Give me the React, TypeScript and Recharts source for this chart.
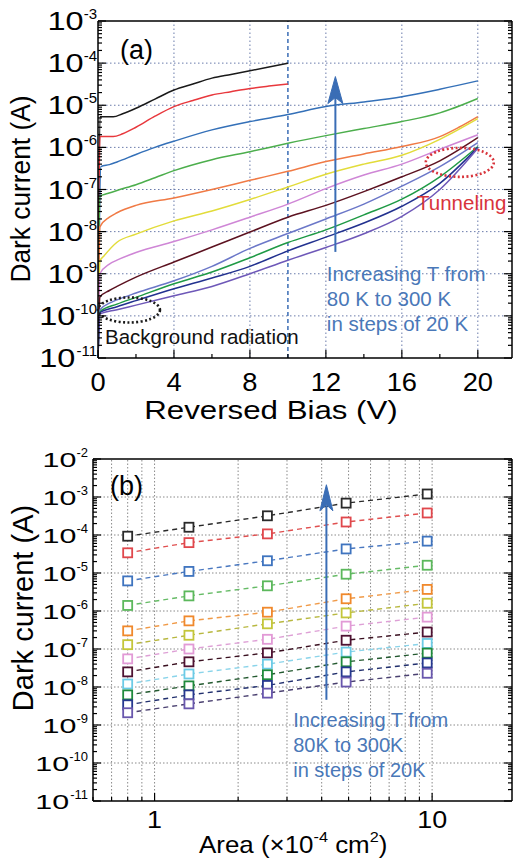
import React from 'react';
import { LineChart, Line, XAxis, YAxis, ReferenceLine, ReferenceArea, ReferenceDot, Label } from 'recharts';

const FONT = '"Liberation Sans", Arial, Helvetica, sans-serif';

// ---------------- Panel (a): dark current vs reversed bias ----------------
const temperaturesA = ['300 K', '280 K', '260 K', '240 K', '220 K', '200 K', '180 K', '160 K', '140 K', '120 K', '100 K', '80 K'];
const colorsA = ['#1a1a1a', '#e8383d', '#3470b8', '#4cae4c', '#f07a45', '#e2dc3a', '#cf86d6', '#5c1220', '#6b77c8', '#1f9a45', '#22318f', '#6e58b8'];

const curve300K: [number, number][] = [[0, 1e-11], [0.1, 5.3e-6], [0.8, 5.3e-6], [1.3, 6.3e-6], [2, 8.5e-6], [3, 1.4e-5], [4, 2.3e-5], [5, 3.2e-5], [6, 4.4e-5], [7, 5.4e-5], [8, 6.6e-5], [9, 8.1e-5], [10, 1e-4]];
const curve280K: [number, number][] = [[0, 1e-11], [0.1, 1.8e-6], [0.8, 1.8e-6], [1.3, 2.1e-6], [2, 3.0e-6], [3, 5.5e-6], [4, 9.3e-6], [5, 1.3e-5], [6, 1.75e-5], [7, 2.1e-5], [8, 2.5e-5], [9, 2.85e-5], [10, 3.2e-5]];
const curve260K: [number, number][] = [[0, 1e-11], [0.15, 3.5e-7], [0.6, 3.9e-7], [1, 4.5e-7], [2, 6.8e-7], [3, 1.0e-6], [4, 1.4e-6], [6, 2.6e-6], [8, 4.1e-6], [10, 6e-6], [12, 9.3e-6], [14, 1.2e-5], [16, 1.6e-5], [18, 2.4e-5], [20, 3.8e-5]];
const curve240K: [number, number][] = [[0, 1e-11], [0.1, 6.9e-8], [0.5, 8e-8], [1, 9.5e-8], [2, 1.3e-7], [3, 1.9e-7], [4, 2.8e-7], [6, 5.1e-7], [8, 7.9e-7], [10, 1.25e-6], [12, 1.9e-6], [14, 2.8e-6], [16, 4.1e-6], [18, 6.6e-6], [20, 1.45e-5]];
const curve220K: [number, number][] = [[0, 1e-11], [0.1, 1.3e-8], [0.6, 2.2e-8], [1, 2.8e-8], [2, 4.2e-8], [4, 6.3e-8], [6, 1.0e-7], [8, 1.65e-7], [10, 2.7e-7], [12, 4.6e-7], [14, 7e-7], [16, 1.05e-6], [18, 1.8e-6], [19, 3.0e-6], [20, 5.4e-6]];
const curve200K: [number, number][] = [[0, 1e-11], [0.1, 2e-9], [0.3, 2.6e-9], [1, 5.6e-9], [2, 8.7e-9], [4, 1.8e-8], [6, 3.1e-8], [8, 5.8e-8], [10, 1.15e-7], [12, 2.3e-7], [14, 4e-7], [16, 6.5e-7], [18, 1.55e-6], [20, 4.8e-6]];
const curve180K: [number, number][] = [[0, 1e-11], [0.1, 1e-9], [0.6, 1.7e-9], [1, 2.1e-9], [2, 3.2e-9], [4, 5.8e-9], [6, 1.1e-8], [8, 2.2e-8], [10, 4.5e-8], [12, 1.05e-7], [14, 2.2e-7], [16, 4e-7], [18, 9e-7], [20, 2e-6]];
const curve160K: [number, number][] = [[0, 1e-11], [0.1, 2.8e-10], [0.6, 4e-10], [1, 5e-10], [2, 8.3e-10], [4, 1.9e-9], [6, 4.3e-9], [8, 9.8e-9], [10, 2.2e-8], [12, 4.2e-8], [14, 8.9e-8], [16, 2e-7], [18, 4.8e-7], [20, 1.7e-6]];
const curve140K: [number, number][] = [[0, 1e-11], [0.1, 1.4e-10], [0.6, 2e-10], [1, 2.4e-10], [2, 3.5e-10], [4, 6.8e-10], [6, 1.5e-9], [8, 4e-9], [10, 9e-9], [12, 2e-8], [14, 4.5e-8], [16, 1.2e-7], [18, 3.5e-7], [20, 1.3e-6]];
const curve120K: [number, number][] = [[0, 1e-11], [0.1, 1.25e-10], [1, 1.9e-10], [2, 2.75e-10], [4, 5.8e-10], [6, 1.1e-9], [8, 2.4e-9], [10, 5.5e-9], [12, 1.1e-8], [14, 2.5e-8], [16, 5.9e-8], [18, 2e-7], [20, 1.05e-6]];
const curve100K: [number, number][] = [[0, 1e-11], [0.1, 1.2e-10], [1, 1.65e-10], [2, 2.3e-10], [4, 4.4e-10], [6, 7.9e-10], [8, 1.5e-9], [10, 3.5e-9], [12, 7.4e-9], [14, 1.6e-8], [16, 4e-8], [18, 1.4e-7], [20, 1e-6]];
const curve80K: [number, number][] = [[0, 1e-11], [0.1, 1.1e-10], [1, 1.4e-10], [2, 1.8e-10], [4, 3e-10], [6, 5e-10], [8, 1e-9], [10, 2.1e-9], [12, 4.2e-9], [14, 8.9e-9], [16, 2.3e-8], [18, 1e-7], [20, 9.5e-7]];

const curvesA = [curve300K, curve280K, curve260K, curve240K, curve220K, curve200K, curve180K, curve160K, curve140K, curve120K, curve100K, curve80K];

const biasTicks = [0, 2, 4, 6, 8, 10, 12, 14, 16, 18, 20];
const biasGrid = [4, 8, 12, 16, 20];
const currentTicksA = [1e-11, 2e-11, 3e-11, 4e-11, 5e-11, 6e-11, 7e-11, 8e-11, 9e-11,
  1e-10, 2e-10, 3e-10, 4e-10, 5e-10, 6e-10, 7e-10, 8e-10, 9e-10,
  1e-9, 2e-9, 3e-9, 4e-9, 5e-9, 6e-9, 7e-9, 8e-9, 9e-9,
  1e-8, 2e-8, 3e-8, 4e-8, 5e-8, 6e-8, 7e-8, 8e-8, 9e-8,
  1e-7, 2e-7, 3e-7, 4e-7, 5e-7, 6e-7, 7e-7, 8e-7, 9e-7,
  1e-6, 2e-6, 3e-6, 4e-6, 5e-6, 6e-6, 7e-6, 8e-6, 9e-6,
  1e-5, 2e-5, 3e-5, 4e-5, 5e-5, 6e-5, 7e-5, 8e-5, 9e-5,
  1e-4, 2e-4, 3e-4, 4e-4, 5e-4, 6e-4, 7e-4, 8e-4, 9e-4, 1e-3];
const decadeGridA = [1e-10, 1e-9, 1e-8, 1e-7, 1e-6, 1e-5, 1e-4];

// ---------------- Panel (b): dark current vs area ----------------
const areaValues = [0.8, 1.33, 2.55, 4.9, 9.6];
const area300K = [9.3e-5, 1.6e-4, 3.2e-4, 6.9e-4, 1.2e-3];
const area280K = [3.4e-5, 6.3e-5, 1.07e-4, 2.2e-4, 3.8e-4];
const area260K = [6.2e-6, 1.1e-5, 2.1e-5, 4.3e-5, 6.9e-5];
const area240K = [1.4e-6, 2.5e-6, 4.6e-6, 9.3e-6, 1.6e-5];
const area220K = [3.0e-7, 5.5e-7, 9.3e-7, 2.1e-6, 3.7e-6];
const area200K = [1.3e-7, 2.3e-7, 4.6e-7, 8.9e-7, 1.6e-6];
const area180K = [5.5e-8, 1.0e-7, 1.8e-7, 4.0e-7, 6.9e-7];
const area160K = [2.5e-8, 4.6e-8, 7.9e-8, 1.7e-7, 2.8e-7];
const area140K = [1.2e-8, 2.2e-8, 4.0e-8, 8.3e-8, 1.4e-7];
const area120K = [6.2e-9, 1.07e-8, 2.1e-8, 4.6e-8, 7.8e-8];
const area100K = [3.4e-9, 6.2e-9, 1.1e-8, 2.5e-8, 4.3e-8];
const area80K = [2.1e-9, 3.6e-9, 6.9e-9, 1.35e-8, 2.3e-8];
const seriesB = [area300K, area280K, area260K, area240K, area220K, area200K, area180K, area160K, area140K, area120K, area100K, area80K];
const markerColorsB = ['#2a2a2a', '#e0474c', '#3f74bf', '#5cb85c', '#f0892c', '#c4c63a', '#e29ad6', '#4e1232', '#6ccbe6', '#1f8a3c', '#26388f', '#6957ad'];
const lineColorsB = ['#2a2a2a', '#e05050', '#4a78c0', '#66bb66', '#f09a48', '#b8b840', '#dea0d6', '#3a1020', '#8ad4ea', '#245a30', '#22306e', '#4a4070'];

const areaTicks = [0.6, 0.7, 0.8, 0.9, 1, 2, 3, 4, 5, 6, 7, 8, 9, 10];
const areaGrid = [0.7, 0.8, 0.9, 1, 2, 3, 4, 5, 6, 7, 8, 9, 10];
const currentTicksB = [...currentTicksA, 2e-3, 3e-3, 4e-3, 5e-3, 6e-3, 7e-3, 8e-3, 9e-3, 1e-2];
const decadeGridB = [1e-10, 1e-9, 1e-8, 1e-7, 1e-6, 1e-5, 1e-4, 1e-3];

const noteLines = ['Increasing T from', '80 K to 300 K', 'in steps of 20 K'];
const noteLinesB = ['Increasing T from', '80K to 300K', 'in steps of 20K'];

// ---------------- helpers ----------------
const isDecade = (v: number) => Math.abs(Math.log10(v) - Math.round(Math.log10(v))) < 1e-6;

type YTickOpts = { side: 'left' | 'right'; major: number; minor: number; labels: boolean; fs: number; sx: number; supFs: number; gap: number; baseDy: number; supDy: number };
function makeYTick(o: YTickOpts) {
  return (props: any) => {
    const { x, y, payload } = props;
    const v = payload.value as number;
    const maj = isDecade(v);
    const dir = o.side === 'left' ? 1 : -1;
    const len = maj ? o.major : o.minor;
    const sup = '-' + String(Math.abs(Math.round(Math.log10(v))));
    const supW = (0.333 + 0.556 * (sup.length - 1)) * o.supFs;
    const supX = x - o.gap;
    const baseX = supX - supW;
    return (
      <g>
        <line x1={x} x2={x + dir * len} y1={y} y2={y} stroke="#000" strokeWidth={1.2} />
        {o.labels && maj ? (
          <g>
            <text x={supX} y={y + o.supDy} textAnchor="end" fontSize={o.supFs} fontFamily={FONT} fill="#000">{sup}</text>
            <text transform={`translate(${baseX},${y + o.baseDy}) scale(${o.sx},1)`} textAnchor="end" fontSize={o.fs} fontFamily={FONT} fill="#000">10</text>
          </g>
        ) : null}
      </g>
    );
  };
}

type XTickOpts = { side: 'bottom' | 'top'; isMajor: (v: number) => boolean; major: number; minor: number; labels: boolean; fs: number; sx: number; dy: number; fmt: (v: number) => string };
function makeXTick(o: XTickOpts) {
  return (props: any) => {
    const { x, y, payload } = props;
    const v = payload.value as number;
    const maj = o.isMajor(v);
    const dir = o.side === 'bottom' ? -1 : 1;
    const len = maj ? o.major : o.minor;
    return (
      <g>
        <line x1={x} x2={x} y1={y} y2={y + dir * len} stroke="#000" strokeWidth={1.2} />
        {o.labels && maj ? (
          <text transform={`translate(${x},${y + o.dy}) scale(${o.sx},1)`} textAnchor="middle" fontSize={o.fs} fontFamily={FONT} fill="#000">{o.fmt(v)}</text>
        ) : null}
      </g>
    );
  };
}

const biasMajor = (v: number) => v % 4 === 0;
const areaMajor = (v: number) => Math.abs(v - 1) < 1e-9 || Math.abs(v - 10) < 1e-9;

const aLeftTick = makeYTick({ side: 'left', major: 8, minor: 4, labels: true, fs: 25, sx: 1.3, supFs: 15, gap: 1, baseDy: 9, supDy: -2 });
const aRightTick = makeYTick({ side: 'right', major: 8, minor: 4, labels: false, fs: 25, sx: 1, supFs: 15, gap: 0, baseDy: 0, supDy: 0 });
const aBottomTick = makeXTick({ side: 'bottom', isMajor: biasMajor, major: 8, minor: 4, labels: true, fs: 26, sx: 1.05, dy: 33, fmt: (v) => String(v) });
const aTopTick = makeXTick({ side: 'top', isMajor: biasMajor, major: 8, minor: 4, labels: false, fs: 26, sx: 1, dy: 0, fmt: (v) => String(v) });

const bLeftTick = makeYTick({ side: 'left', major: 8, minor: 4, labels: true, fs: 21, sx: 1.45, supFs: 13, gap: 5, baseDy: 8, supDy: -2 });
const bRightTick = makeYTick({ side: 'right', major: 8, minor: 4, labels: false, fs: 21, sx: 1, supFs: 13, gap: 0, baseDy: 0, supDy: 0 });
const bBottomTick = makeXTick({ side: 'bottom', isMajor: areaMajor, major: 8, minor: 4, labels: true, fs: 23, sx: 1.17, dy: 27, fmt: (v) => String(Math.round(v)) });
const bTopTick = makeXTick({ side: 'top', isMajor: areaMajor, major: 8, minor: 4, labels: false, fs: 23, sx: 1, dy: 0, fmt: (v) => String(v) });

const frame = { stroke: '#000', strokeWidth: 1.5 };
const blue = '#3a6db5';

const noteShape = (lines: string[], color: string, fs: number, step: number) => (p: any) => (
  <text x={p.cx} y={p.cy} fontSize={fs} fontFamily={FONT} fill={color}>
    {lines.map((t, k) => (
      <tspan key={k} x={p.cx} dy={k === 0 ? 0 : step}>{t}</tspan>
    ))}
  </text>
);

const arrowHead = (w: number, h: number, notch: number) => (p: any) => (
  <polygon points={`${p.cx},${p.cy} ${p.cx - w / 2},${p.cy + h} ${p.cx},${p.cy + h - notch} ${p.cx + w / 2},${p.cy + h}`} fill={blue} stroke={blue} strokeWidth={1} />
);

const ellipseShape = (rx: number, ry: number, color: string) => (p: any) => (
  <ellipse cx={p.cx} cy={p.cy} rx={rx} ry={ry} fill="none" stroke={color} strokeWidth={2.6} strokeDasharray="2 2.4" />
);

function PanelA() {
  return (
    <LineChart width={514} height={430} margin={{ top: 20, right: 1, bottom: 0, left: 0 }}>
      <XAxis xAxisId={0} type="number" dataKey="v" domain={[0, 21.8]} ticks={biasTicks} interval={0} allowDataOverflow
        tickSize={0} tickMargin={0} tickLine={false} axisLine={frame} tick={aBottomTick} height={72}>
        <Label content={(p: any) => (
          <text transform={`translate(${p.viewBox.x + 173},${p.viewBox.y + 61}) scale(1.25,1)`} textAnchor="middle" fontSize={25} fontFamily={FONT} fill="#000">Reversed Bias (V)</text>
        )} />
      </XAxis>
      <XAxis xAxisId="top" orientation="top" type="number" domain={[0, 21.8]} ticks={biasTicks} interval={0} allowDataOverflow
        tickSize={0} tickMargin={0} tickLine={false} axisLine={frame} tick={aTopTick} height={1} />
      <YAxis yAxisId={0} type="number" scale="log" domain={[1e-11, 1e-3]} ticks={currentTicksA} interval={0} allowDataOverflow
        tickSize={0} tickMargin={0} tickLine={false} axisLine={frame} tick={aLeftTick} width={98}>
        <Label content={() => (
          <g>
            <text transform="translate(30,189) rotate(-90) scale(0.94,1)" textAnchor="middle" fontSize={28} fontFamily={FONT} fill="#000">Dark current (A)</text>
            <text x={120} y={59} fontSize={27} fontFamily={FONT} fill="#000">(a)</text>
          </g>
        )} />
      </YAxis>
      <YAxis yAxisId="right" orientation="right" type="number" scale="log" domain={[1e-11, 1e-3]} ticks={currentTicksA} interval={0} allowDataOverflow
        tickSize={0} tickMargin={0} tickLine={false} axisLine={frame} tick={aRightTick} width={1} />

      {decadeGridA.map((d) => (
        <ReferenceLine key={'h' + d} y={d} stroke="#6a7bab" strokeWidth={1} strokeDasharray="1.5 2.5" />
      ))}
      {biasGrid.map((d) => (
        <ReferenceLine key={'v' + d} x={d} stroke="#6a7bab" strokeWidth={1} strokeDasharray="1.5 2.5" />
      ))}
      <ReferenceLine x={10} stroke={blue} strokeWidth={1.5} strokeDasharray="4 3" />

      <ReferenceArea x1={11.3} x2={21.2} y1={2.6e-11} y2={2.6e-9} fill="#fff" fillOpacity={1} stroke="none" />
      <ReferenceArea x1={0.26} x2={10.74} y1={1.7e-11} y2={5.9e-11} fill="#fff" fillOpacity={1} stroke="none" />

      {curvesA.map((c, k) => (
        <Line key={temperaturesA[k]} name={temperaturesA[k]} xAxisId={0} yAxisId={0} data={c.map(([v, i]) => ({ v, i }))}
          dataKey="i" type="monotone" stroke={colorsA[k]} strokeWidth={1.5} dot={false} isAnimationActive={false} />
      ))}

      <ReferenceLine segment={[{ x: 12.5, y: 3.3e-9 }, { x: 12.5, y: 1.6e-5 }]} stroke={blue} strokeWidth={2} />
      <ReferenceDot x={12.5} y={4.8e-5} r={0} shape={arrowHead(15, 27, 6)} />
      <ReferenceDot x={19.05} y={4.4e-7} r={0} shape={ellipseShape(34, 14.5, '#d8343b')} />
      <ReferenceDot x={1.63} y={1.38e-10} r={0} shape={ellipseShape(31, 12.5, '#1a1a1a')} />
      <ReferenceDot x={16.8} y={3.2e-8} r={0} shape={noteShape(['Tunneling'], '#d8343b', 20.5, 0)} />
      <ReferenceDot x={0.37} y={2.2e-11} r={0} shape={noteShape(['Background radiation'], '#111', 20.5, 0)} />
      <ReferenceDot x={12.05} y={6.8e-10} r={0} shape={noteShape(noteLines, '#4a78b8', 20.5, 25)} />
    </LineChart>
  );
}

function PanelB() {
  return (
    <LineChart width={514} height={430} margin={{ top: 23, right: 1, bottom: 0, left: 0 }}>
      <XAxis xAxisId={0} type="number" dataKey="a" scale="log" domain={[0.6, 19.4]} ticks={areaTicks} interval={0} allowDataOverflow
        tickSize={0} tickMargin={0} tickLine={false} axisLine={frame} tick={bBottomTick} height={64}>
        <Label content={(p: any) => (
          <text transform={`translate(199,${p.viewBox.y + 52}) scale(1.08,1)`} textAnchor="start" fontSize={24} fontFamily={FONT} fill="#000">
            Area (×10<tspan dy={-11} fontSize={15}>-4</tspan><tspan dy={11}> cm</tspan><tspan dy={-11} fontSize={15}>2</tspan><tspan dy={11}>)</tspan>
          </text>
        )} />
      </XAxis>
      <XAxis xAxisId="top" orientation="top" type="number" scale="log" domain={[0.6, 19.4]} ticks={areaTicks} interval={0} allowDataOverflow
        tickSize={0} tickMargin={0} tickLine={false} axisLine={frame} tick={bTopTick} height={1} />
      <YAxis yAxisId={0} type="number" scale="log" domain={[1e-11, 1e-2]} ticks={currentTicksB} interval={0} allowDataOverflow
        tickSize={0} tickMargin={0} tickLine={false} axisLine={frame} tick={bLeftTick} width={93}>
        <Label content={() => (
          <g>
            <text transform="translate(33,173) rotate(-90)" textAnchor="middle" fontSize={29} fontFamily={FONT} fill="#000">Dark current (A)</text>
            <text x={110} y={60} fontSize={27} fontFamily={FONT} fill="#000">(b)</text>
          </g>
        )} />
      </YAxis>
      <YAxis yAxisId="right" orientation="right" type="number" scale="log" domain={[1e-11, 1e-2]} ticks={currentTicksB} interval={0} allowDataOverflow
        tickSize={0} tickMargin={0} tickLine={false} axisLine={frame} tick={bRightTick} width={1} />

      {decadeGridB.map((d) => (
        <ReferenceLine key={'h' + d} y={d} stroke="#8a8a8a" strokeWidth={1} strokeDasharray="1.5 2" />
      ))}
      {areaGrid.map((d) => (
        <ReferenceLine key={'v' + d} x={d} stroke="#8a8a8a" strokeWidth={1} strokeDasharray="1.5 2" />
      ))}

      <ReferenceArea x1={3.09} x2={13.5} y1={1.95e-11} y2={4.4e-9} fill="#fff" fillOpacity={1} stroke="none" />

      {seriesB.map((vals, k) => (
        <Line key={'b' + k} name={temperaturesA[k]} xAxisId={0} yAxisId={0} data={areaValues.map((a, j) => ({ a, i: vals[j] }))}
          dataKey="i" type="linear" stroke={lineColorsB[k]} strokeWidth={1.4} strokeDasharray="5 4" isAnimationActive={false}
          dot={(p: any) => (
            <rect key={'d' + k + '-' + p.index} x={p.cx - 4.5} y={p.cy - 4.5} width={9} height={9} fill="#fff" stroke={markerColorsB[k]} strokeWidth={1.8} />
          )} />
      ))}

      <ReferenceLine segment={[{ x: 4.16, y: 4.6e-9 }, { x: 4.16, y: 6e-4 }]} stroke={blue} strokeWidth={2} />
      <ReferenceDot x={4.16} y={2.1e-3} r={0} shape={arrowHead(13, 26, 6)} />
      <ReferenceDot x={3.16} y={8.9e-10} r={0} shape={noteShape(noteLinesB, '#4a78b8', 20, 25)} />
    </LineChart>
  );
}

export default function App() {
  return (
    <div style={{ position: 'absolute', left: 0, top: 0, width: 514, height: 865, background: '#fff' }}>
      <div style={{ position: 'absolute', left: 0, top: 0 }}>
        <PanelA />
      </div>
      <div style={{ position: 'absolute', left: 0, top: 435 }}>
        <PanelB />
      </div>
    </div>
  );
}
